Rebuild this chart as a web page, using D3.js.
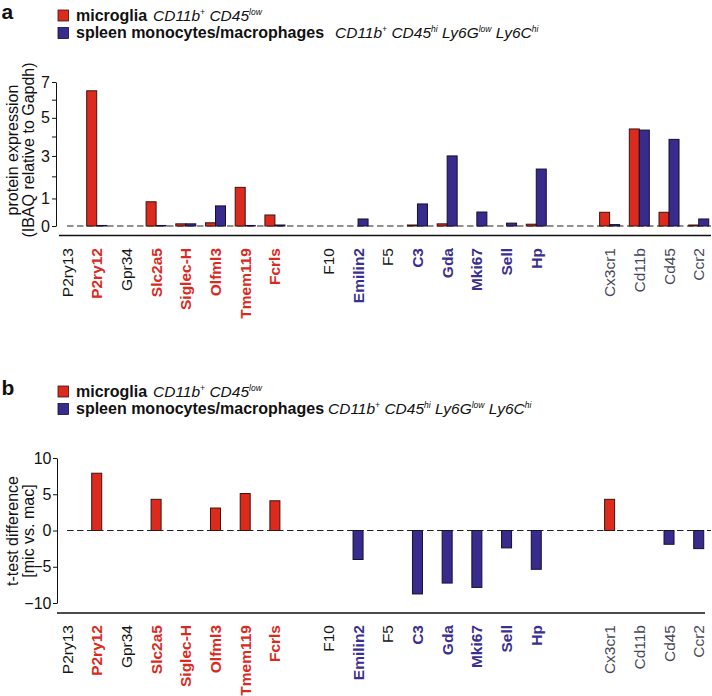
<!DOCTYPE html>
<html><head><meta charset="utf-8">
<script src="https://cdn.jsdelivr.net/npm/d3@7"></script>
<style>
body{margin:0;background:#fff}
svg{display:block;font-family:"Liberation Sans",Arial,Helvetica,sans-serif}
</style>
</head><body>
<svg id="chart" width="712" height="696"></svg>
<script>
// ---------------- data ----------------
const genes = ["P2ry13","P2ry12","Gpr34","Slc2a5","Siglec-H","Olfml3","Tmem119","Fcrls",
               "F10","Emilin2","F5","C3","Gda","Mki67","Sell","Hp",
               "Cx3cr1","Cd11b","Cd45","Ccr2"];
// section each gene belongs to (0 microglia signature, 1 monocyte signature, 2 markers)
const geneSection = [0,0,0,0,0,0,0,0, 1,1,1,1,1,1,1,1, 2,2,2,2];
// label class: n = not significant, mic = microglia-enriched, mac = monocyte-enriched, mk = marker
const geneClass = ["n","mic","n","mic","mic","mic","mic","mic",
                   "n","mac","n","mac","mac","mac","mac","mac",
                   "mk","mk","mk","mk"];
// panel a: protein expression (iBAQ relative to Gapdh)
const protMicroglia = [0, 6.5, 0, 0.86, 0.05, 0.08, 1.49, 0.34,
                       0, 0, 0, 0.02, 0.05, 0, 0, 0.04,
                       0.44, 4.40, 0.44, 0.02];
const protMonocyte  = [0, 0.01, 0, 0.01, 0.05, 0.69, 0.01, 0.02,
                       0, 0.20, 0, 0.77, 3.0, 0.45, 0.07, 2.35,
                       0.03, 4.34, 3.85, 0.20];
// panel b: t-test difference (mic vs. mac)
const tDiff = [null, 7.9, null, 4.3, null, 3.1, 5.1, 4.1,
               null, -4.0, null, -8.75, -7.25, -7.85, -2.4, -5.35,
               4.3, null, -1.9, -2.5];
const yTicksA = [0,1,2,3,4,5,6,7];
const yTickLabelsA = [0,1,3,5,7];
const yTicksB = [-10,-5,0,5,10];
const seriesNames = ["microglia", "spleen monocytes/macrophages"];
const seriesMarkers = [
  [["CD11b","+"],["CD45","low"]],
  [["CD11b","+"],["CD45","hi"],["Ly6G","low"],["Ly6C","hi"]]
];
const axisTitleA = ["protein expression", "(IBAQ relative to Gapdh)"];
const axisTitleB = ["t-test difference", "[mic vs. mac]"];

// ---------------- style ----------------
const RED = "#dc2a1d", BLUE = "#372b8e";
const RED_STROKE = "#3a1512", BLUE_STROKE = "#15102e";
const labelStyle = {
  n:   {fill:"#161616", weight:"normal"},
  mic: {fill:"#d92a1f", weight:"bold"},
  mac: {fill:"#3a2e90", weight:"bold"},
  mk:  {fill:"#46465a", weight:"normal"}
};

const svg = d3.select("#chart");

// x layout: one slot per gene, extra blank slots between sections
const SLOT = 29.7;
const sectionGap = [0, 0.8, 2.27];
const slotIndex = genes.map((g,i) => i + sectionGap[geneSection[i]]);
const x = d3.scaleLinear().domain([0,1]).range([67, 67 + SLOT]);
const xi = d3.scaleBand().domain(["mic","mac"]).range([-10,10]);

function legend(g, y0, italicX, panelLetter) {
  g.append("text").attr("x", 1.5).attr("y", y0 + 19).attr("font-size", 21)
    .attr("font-weight", "bold").attr("fill", "#111").text(panelLetter);
  seriesNames.forEach((name, r) => {
    const cy = y0 + 15.5 + r * 17.5;
    g.append("rect").attr("x", 58).attr("y", cy - 5.5).attr("width", 10.5).attr("height", 11)
      .attr("fill", r === 0 ? RED : BLUE).attr("stroke", r === 0 ? RED_STROKE : BLUE_STROKE).attr("stroke-width", 0.8);
    g.append("text").attr("x", 76).attr("y", cy + 5).attr("font-size", 16)
      .attr("font-weight", "bold").attr("fill", "#111").text(name);
    const t = g.append("text").attr("x", italicX[r]).attr("y", cy + 5).attr("font-size", 15.5)
      .attr("font-style", "italic").attr("fill", "#111");
    seriesMarkers[r].forEach((m, k) => {
      t.append("tspan").attr("dy", k === 0 ? 0 : 6).text((k === 0 ? "" : " ") + m[0]);
      t.append("tspan").attr("dy", -6).attr("font-size", 8.5).text(m[1]);
    });
  });
}

function catLabels(g, yTop) {
  genes.forEach((name, i) => {
    const st = labelStyle[geneClass[i]];
    g.append("text")
      .attr("transform", `translate(${x(slotIndex[i])},${yTop}) rotate(-90)`)
      .attr("text-anchor", "end").attr("dy", "0.36em")
      .attr("font-size", 15.5).attr("font-weight", st.weight).attr("fill", st.fill)
      .text(name);
  });
}

function axisTitle(g, lines, yc) {
  lines.forEach((l, k) => {
    g.append("text").attr("transform", `translate(${18 + k*15.5},${yc}) rotate(-90)`)
      .attr("text-anchor", "middle").attr("font-size", 16).attr("fill", "#111").text(l);
  });
}

function styleAxis(sel) {
  sel.selectAll("path,line").attr("stroke", "#111").attr("stroke-width", 1);
  sel.selectAll("text").attr("font-size", 16).attr("fill", "#111")
    .attr("font-family", '"Liberation Sans",Arial,Helvetica,sans-serif');
}

// ================= panel a =================
const gA = svg.append("g");
legend(gA, 0, [153, 335], "a");
const yA = d3.scalePow().exponent(0.85).domain([0,7]).range([226, 82]);
const axA = gA.append("g").attr("transform", "translate(56,0)")
  .call(d3.axisLeft(yA).tickValues(yTicksA).tickSize(4).tickSizeOuter(0).tickPadding(2)
    .tickFormat(d => yTickLabelsA.includes(d) ? d : ""));
styleAxis(axA);
axisTitle(gA, axisTitleA, 150);
gA.append("line").attr("x1", 67).attr("x2", 711).attr("y1", yA(0)).attr("y2", yA(0))
  .attr("stroke", "#222").attr("stroke-width", 1.1).attr("stroke-dasharray", "6.5,3.5");
const barsA = [];
genes.forEach((gname, i) => {
  if (protMicroglia[i] > 0) barsA.push({i, key:"mic", v: protMicroglia[i]});
  if (protMonocyte[i] > 0) barsA.push({i, key:"mac", v: protMonocyte[i]});
});
gA.selectAll("rect.bar").data(barsA).join("rect").attr("class","bar")
  .attr("x", d => x(slotIndex[d.i]) + xi(d.key))
  .attr("width", xi.bandwidth())
  .attr("y", d => yA(d.v))
  .attr("height", d => yA(0) - yA(d.v))
  .attr("fill", d => d.key === "mic" ? RED : BLUE)
  .attr("stroke", d => d.key === "mic" ? RED_STROKE : BLUE_STROKE)
  .attr("stroke-width", 1);
gA.append("line").attr("x1", 59).attr("x2", 711).attr("y1", 235.5).attr("y2", 235.5)
  .attr("stroke", "#111").attr("stroke-width", 1.3);
catLabels(gA, 248);

// ================= panel b =================
const OFF = 377;
const gB = svg.append("g");
legend(gB, OFF - 1, [153, 328], "b");
const yB = d3.scaleLinear().domain([-10,10]).range([603, 458]);
const axB = gB.append("g").attr("transform", "translate(57,0)")
  .call(d3.axisLeft(yB).tickValues(yTicksB).tickSize(4).tickSizeOuter(0).tickPadding(1.5));
styleAxis(axB);
axisTitle(gB, axisTitleB, 531);
gB.append("line").attr("x1", 67).attr("x2", 711).attr("y1", yB(0)).attr("y2", yB(0))
  .attr("stroke", "#222").attr("stroke-width", 1.1).attr("stroke-dasharray", "6.5,3.5");
const barsB = genes.map((gname, i) => ({i, v: tDiff[i]})).filter(d => d.v !== null);
gB.selectAll("rect.bar").data(barsB).join("rect").attr("class","bar")
  .attr("x", d => x(slotIndex[d.i]) - 5)
  .attr("width", 10)
  .attr("y", d => yB(Math.max(0, d.v)))
  .attr("height", d => Math.abs(yB(d.v) - yB(0)))
  .attr("fill", d => d.v > 0 ? RED : BLUE)
  .attr("stroke", d => d.v > 0 ? RED_STROKE : BLUE_STROKE)
  .attr("stroke-width", 1);
gB.append("line").attr("x1", 57).attr("x2", 705).attr("y1", 613).attr("y2", 613)
  .attr("stroke", "#111").attr("stroke-width", 1.3);
catLabels(gB, 625);
</script>
</body></html>
